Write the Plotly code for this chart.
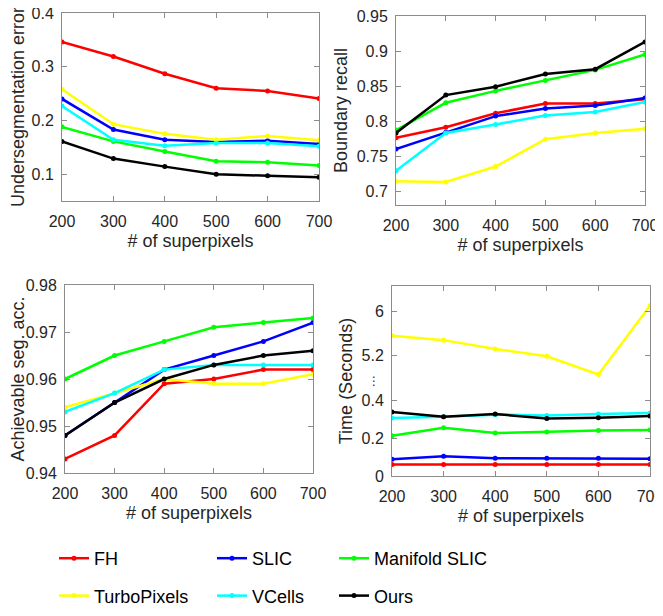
import plotly.graph_objects as go

x_vals = [200, 300, 400, 500, 600, 700]
methods = ["FH", "SLIC", "Manifold SLIC", "TurboPixels", "VCells", "Ours"]
colors = ["#FF0000", "#0000FF", "#00FF00", "#FFFF00", "#00FFFF", "#000000"]

ue_fh = [0.346, 0.319, 0.287, 0.260, 0.255, 0.241]
ue_slic = [0.240, 0.183, 0.164, 0.160, 0.162, 0.156]
ue_mslic = [0.188, 0.161, 0.142, 0.124, 0.122, 0.116]
ue_turbo = [0.258, 0.193, 0.175, 0.164, 0.171, 0.163]
ue_vcells = [0.227, 0.164, 0.153, 0.158, 0.158, 0.152]
ue_ours = [0.161, 0.129, 0.114, 0.100, 0.097, 0.094]

br_fh = [0.776, 0.791, 0.811, 0.825, 0.825, 0.831]
br_slic = [0.760, 0.784, 0.807, 0.818, 0.822, 0.833]
br_mslic = [0.787, 0.826, 0.843, 0.858, 0.873, 0.895]
br_turbo = [0.714, 0.713, 0.735, 0.774, 0.783, 0.789]
br_vcells = [0.729, 0.783, 0.795, 0.808, 0.813, 0.827]
br_ours = [0.783, 0.837, 0.849, 0.867, 0.874, 0.913]

asa_fh = [0.943, 0.948, 0.959, 0.960, 0.962, 0.962]
asa_slic = [0.948, 0.955, 0.962, 0.965, 0.968, 0.972]
asa_mslic = [0.960, 0.965, 0.968, 0.971, 0.972, 0.973]
asa_turbo = [0.954, 0.957, 0.960, 0.959, 0.959, 0.961]
asa_vcells = [0.953, 0.957, 0.962, 0.963, 0.963, 0.963]
asa_ours = [0.948, 0.955, 0.960, 0.963, 0.965, 0.966]

time_fh = [0.060, 0.060, 0.060, 0.060, 0.060, 0.060]
time_slic = [0.088, 0.104, 0.093, 0.093, 0.093, 0.091]
time_mslic = [0.212, 0.254, 0.226, 0.232, 0.240, 0.242]
time_turbo = [5.56, 5.48, 5.32, 5.19, 4.86, 6.10]
time_vcells = [0.305, 0.312, 0.323, 0.319, 0.326, 0.332]
time_ours = [0.337, 0.312, 0.326, 0.302, 0.307, 0.316]

time_tick_vals = [0, 0.2, 0.4, 5.2, 6]
time_tick_text = ["0", "0.2", "0.4", "5.2", "6"]

# broken time axis: lower part 0..0.4 linear, upper part compressed
def time_axis(v):
    return v if v <= 0.4 else 0.4 + (v - 4.4) * 0.2917

ue = [ue_fh, ue_slic, ue_mslic, ue_turbo, ue_vcells, ue_ours]
br = [br_fh, br_slic, br_mslic, br_turbo, br_vcells, br_ours]
asa = [asa_fh, asa_slic, asa_mslic, asa_turbo, asa_vcells, asa_ours]
tm = [time_fh, time_slic, time_mslic, time_turbo, time_vcells, time_ours]

# the page body has an 8px margin, so the figure is sized to fit the window
OFF = 8
W, H = 663 - OFF, 616 - OFF
FONT = "Liberation Sans, Arial, sans-serif"
TXT = "#262626"
AX = "#8c8c8c"

fig = go.Figure()
legend_of = ["legend", "legend2", "legend3", "legend", "legend2", "legend3"]
for i, m in enumerate(methods):
    for k, (data, xa, ya) in enumerate([(ue, "x", "y"), (br, "x2", "y2"), (asa, "x3", "y3"), (tm, "x4", "y4")]):
        yv = data[i] if k < 3 else [time_axis(v) for v in data[i]]
        fig.add_trace(go.Scatter(
            x=x_vals, y=yv, xaxis=xa, yaxis=ya, mode="lines+markers",
            line=dict(color=colors[i], width=2.5),
            marker=dict(color=colors[i], size=5),
            name=m, showlegend=(k == 0), legend=legend_of[i], legendgroup=m,
        ))

def px_x(p):
    return (p - OFF) / W

def px_y(p):
    return 1 - (p - OFF) / H

def dom_x(a, b):
    return [px_x(a), px_x(b)]

def dom_y(top, bot):
    return [px_y(bot), px_y(top)]

common_ax = dict(showline=True, linecolor=AX, linewidth=1, mirror="ticks",
                 ticks="inside", ticklen=5, tickcolor=AX, showgrid=False,
                 zeroline=False, automargin=False, ticklabelstandoff=4,
                 ticklabeloverflow="allow",
                 tickfont=dict(family=FONT, size=16, color=TXT))
xcommon = dict(common_ax, range=[200, 700], tickvals=x_vals, ticklabelstandoff=6,
               title=dict(text="# of superpixels", font=dict(family=FONT, size=18, color=TXT), standoff=5))

def ytitle(t):
    return dict(text=t, font=dict(family=FONT, size=18, color=TXT), standoff=4)

fig.update_layout(
    width=W, height=H, margin=dict(l=0, r=0, t=0, b=0, autoexpand=False),
    paper_bgcolor="white", plot_bgcolor="white",
    xaxis=dict(xcommon, domain=dom_x(62, 319), anchor="y"),
    yaxis=dict(common_ax, domain=dom_y(13, 201), anchor="x", range=[0.05, 0.4],
               tickvals=[0.1, 0.2, 0.3, 0.4], title=ytitle("Undersegmentation error")),
    xaxis2=dict(xcommon, domain=dom_x(396, 645), anchor="y2"),
    yaxis2=dict(common_ax, domain=dom_y(16, 205), anchor="x2", range=[0.68, 0.95],
                tickvals=[0.7, 0.75, 0.8, 0.85, 0.9, 0.95], ticktext=["0.7", "0.75", "0.8", "0.85", "0.9", "0.95"],
                title=ytitle("Boundary recall")),
    xaxis3=dict(xcommon, domain=dom_x(65, 313), anchor="y3"),
    yaxis3=dict(common_ax, domain=dom_y(285, 473), anchor="x3", range=[0.94, 0.98],
                tickvals=[0.94, 0.95, 0.96, 0.97, 0.98], ticktext=["0.94", "0.95", "0.96", "0.97", "0.98"],
                title=ytitle("Achievable seg. acc.")),
    xaxis4=dict(xcommon, domain=dom_x(392, 650), anchor="y4"),
    yaxis4=dict(common_ax, domain=dom_y(286, 476), anchor="x4", range=[0, 1.0],
                tickvals=[time_axis(v) for v in time_tick_vals], ticktext=time_tick_text,
                title=ytitle("Time (Seconds)")),
)

leg_common = dict(orientation="v", xanchor="left", yanchor="middle", y=px_y(577),
                  font=dict(family=FONT, size=18, color="black"), itemwidth=30,
                  tracegroupgap=11, bgcolor="rgba(0,0,0,0)", traceorder="grouped")
fig.update_layout(
    legend=dict(leg_common, x=px_x(54)),
    legend2=dict(leg_common, x=px_x(212)),
    legend3=dict(leg_common, x=px_x(334)),
)

fig.add_annotation(xref="paper", yref="y4", x=px_x(382), y=0.5, text="⋮", showarrow=False,
                   xanchor="right", yanchor="middle", font=dict(family="DejaVu Sans", size=12, color=TXT))

fig.write_html("out.html")
